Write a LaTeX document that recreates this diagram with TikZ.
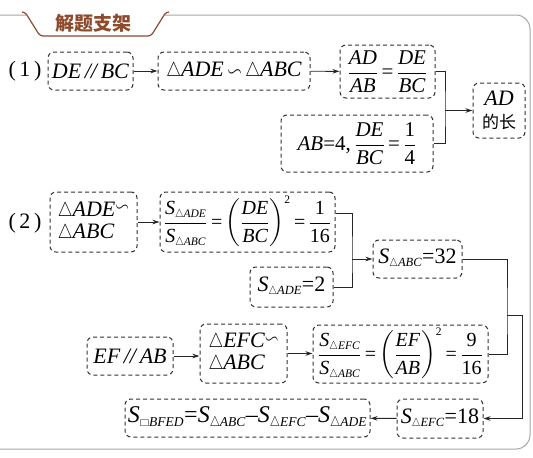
\documentclass[tikz,border=0pt]{standalone}
\usepackage{amsmath,amssymb,graphicx}
\usepackage{fontspec}
\setmainfont{Liberation Serif}
\newfontfamily\cjk{Noto Sans CJK SC}
\usetikzlibrary{arrows.meta}
\DeclareMathSizes{24}{24}{13.5}{10}
\DeclareMathSizes{22}{22}{12.5}{10}
\DeclareMathSizes{21}{21}{12}{9}
\DeclareMathSizes{20}{20}{11.5}{9}
\thickmuskip=3mu plus 1mu
\newcommand{\V}[1]{\textit{#1}}
\newcommand{\T}[1]{\text{#1}}
\newcommand{\tri}{\text{\scalebox{0.8}[0.97]{$\triangle$}}}
\newcommand{\sq}{\text{\scalebox{0.9}[0.72]{$\square$}}}
\newcommand{\sm}{\mathrel{\scalebox{0.85}{$\backsim$}}}
\newcommand{\smr}{\mathord{\raisebox{0.2em}{\scalebox{0.8}{$\backsim$}}}}
\newcommand{\Sb}[1]{\V{S}_{\tri\V{#1}}}
\newcommand{\eq}{\mathrel{\text{=}}}
\newcommand{\eqt}{{\text{=}}}
\newcommand{\mn}{{\text{–}}}
\definecolor{hdr}{HTML}{8E4A2C}
\tikzset{
  bx/.style={draw=black!80, dash pattern=on 4pt off 3pt, rounded corners=6pt, line width=1pt, inner sep=0pt, align=center},
  cn/.style={draw=black!85, line width=0.9pt},
  ar/.style={cn, -{Stealth[length=7pt,width=4.5pt]}},
  fs/.style={font=\fontsize{20}{22}\selectfont},
  fm/.style={font=\fontsize{21}{23}\selectfont},
  fl/.style={font=\fontsize{24}{26}\selectfont},
}
\begin{document}
\begin{tikzpicture}[x=1pt,y=-1pt, font=\fontsize{22}{25}\selectfont]
\useasboundingbox (0,0) rectangle (533,458);
% frame
\draw[black!35, line width=1pt, rounded corners=14pt] (-20,15) -- (530,15) -- (530,449) -- (-20,449);
% header tab
\fill[white] (24,12) -- (40,36) -- (151,36) -- (167,12) -- cycle;
\draw[hdr, line width=1.2pt, rounded corners=3pt] (22,12) -- (25,12) -- (40,36) -- (151,36) -- (166,12) -- (169,12);
\node[text=hdr, font=\cjk\bfseries\fontsize{19}{20}\selectfont] (hd) at (93,23) {解题支架};
% labels
\node (l1) at (25,71) {(\,1\,)};
\node (l2) at (25,223) {(\,2\,)};
% row 1
\node[bx, minimum width=85pt, minimum height=38pt] (A) at (90.5,71) {\textit{DE\,//\,BC}};
\node[bx, minimum width=152pt, minimum height=38pt] (B) at (234,71) {$\tri\V{ADE}\sm\tri\V{ABC}$};
\node[bx, fm, minimum width=95pt, minimum height=53pt] (C) at (387.5,71.5) {$\dfrac{\V{AD}}{\V{AB}}\eq\dfrac{\V{DE}}{\V{BC}}$};
\node[bx, fm, minimum width=152pt, minimum height=57pt] (D) at (357,143.5) {\V{AB}=4,\,$\dfrac{\V{DE}}{\V{BC}}\eq\dfrac{\T{1}}{\T{4}}$};
\node[bx, minimum width=52pt, minimum height=55pt] (E) at (499,110.5) {\V{AD}\\[-2pt]{\cjk\fontsize{17}{18}\selectfont 的长}};
\coordinate (j1) at (445,110.5);
\draw[ar] (A) -- (B);
\draw[ar] (B) -- (C);
\draw[cn] (C.east) -| (j1) |- (D.east);
\draw[ar] (j1) -- (E.west);
% row 2
\node[bx, minimum width=87pt, minimum height=60pt, align=left] (F) at (93.5,222) {$\tri\V{ADE}\smr$\\[-3pt]$\tri\V{ABC}$\hphantom{$\smr$}};
\node[bx, fs, minimum width=175pt, minimum height=60pt] (G) at (247.5,222) {$\dfrac{\Sb{ADE}}{\Sb{ABC}}\eq\left(\dfrac{\V{DE}}{\V{BC}}\right)^{\T{2}}\eq\dfrac{\T{1}}{\T{16}}$};
\node[bx, minimum width=83pt, minimum height=40pt] (H) at (291.5,287) {$\Sb{ADE}\eqt\T{2}$};
\node[bx, minimum width=89pt, minimum height=38pt] (I) at (417.5,259) {$\Sb{ABC}\eqt\T{32}$};
\coordinate (j2) at (352,259);
\draw[ar] (F) -- (G);
\draw[cn] ([yshift=9pt]G.east) -| (j2) |- (H.east);
\draw[ar] (j2) -- (I.west);
% row 3
\node[bx, minimum width=86pt, minimum height=38pt] (J) at (130,356) {\textit{EF\,//\,AB}};
\node[bx, minimum width=87pt, minimum height=59pt, align=left] (K2) at (243.5,353.5) {$\tri\V{EFC}\smr$\\[-3pt]$\tri\V{ABC}$\hphantom{$\smr$}};
\node[bx, fs, minimum width=175pt, minimum height=58pt] (K) at (400.5,354) {$\dfrac{\Sb{EFC}}{\Sb{ABC}}\eq\left(\dfrac{\V{EF}}{\V{AB}}\right)^{\T{2}}\eq\dfrac{\T{9}}{\T{16}}$};
\draw[ar] (J.east) -- (J.east -| K2.west);
\draw[ar] (K2.east) -- (K2.east -| K.west);
\coordinate (j3) at (507,315);
\coordinate (j4) at (522,315);
\draw[cn] (I.east) -| (j3) |- (K.east);
% row 4
\node[bx, fl, minimum width=245pt, minimum height=38pt] (M) at (247.5,418) {$\V{S}_{\sq\V{BFED}}\eqt\Sb{ABC}\mn\Sb{EFC}\mn\Sb{ADE}$};
\node[bx, minimum width=86pt, minimum height=39pt] (L) at (440,418.5) {$\Sb{EFC}\eqt\T{18}$};
\draw[ar] (j3) -- (j4) |- (L.east);
\draw[ar] (L) -- (M);
\end{tikzpicture}
\end{document}
